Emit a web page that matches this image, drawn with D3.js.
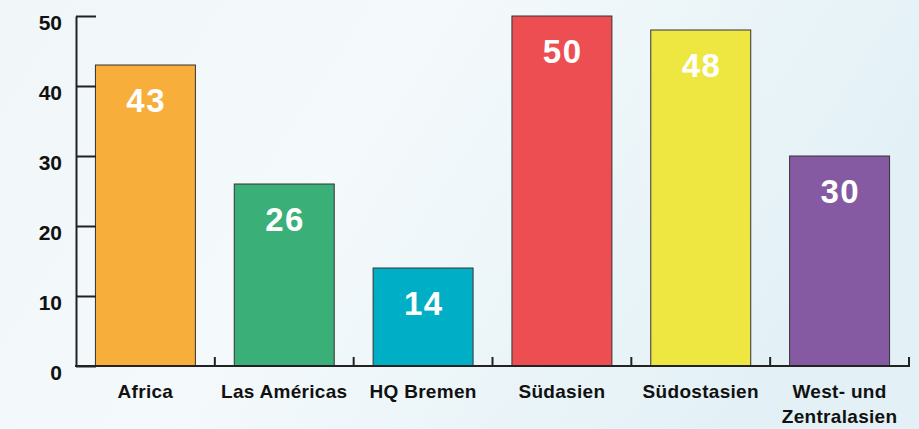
<!DOCTYPE html>
<html><head><meta charset="utf-8">
<script src="https://cdn.jsdelivr.net/npm/d3@7"></script>
<style>
html,body{margin:0;padding:0;width:919px;height:429px;overflow:hidden;}
svg{display:block;}
</style></head><body>
<script>
const categories = ["Africa", "Las Américas", "HQ Bremen", "Südasien", "Südostasien", "West- und Zentralasien"];
const values = [43, 26, 14, 50, 48, 30];
const colors = ["#F8AE3A", "#3BAF78", "#00AEC6", "#EC4E52", "#EEE641", "#865AA2"];
const yTicks = [0, 10, 20, 30, 40, 50];

const W = 919, H = 429;
const svg = d3.select("body").append("svg").attr("width", W).attr("height", H);

const defs = svg.append("defs");
const lg = defs.append("linearGradient").attr("id","bg").attr("x1","0").attr("y1","0").attr("x2","1").attr("y2","0.3");
lg.append("stop").attr("offset","0").attr("stop-color","#f1f7f9");
lg.append("stop").attr("offset","0.45").attr("stop-color","#f4f9fb");
lg.append("stop").attr("offset","1").attr("stop-color","#e3f1f6");
svg.append("rect").attr("width",W).attr("height",H).attr("fill","url(#bg)");

const x = d3.scaleBand().domain(categories).range([76, 909]).paddingInner(0.28).paddingOuter(0.14);
const y = d3.scaleLinear().domain([0, 50]).range([366, 16]);

// bars
svg.selectAll("rect.bar").data(values).join("rect").attr("class","bar")
  .attr("x", (d,i) => x(categories[i]))
  .attr("y", d => y(d))
  .attr("width", x.bandwidth())
  .attr("height", d => y(0) - y(d))
  .attr("fill", (d,i) => colors[i])
  .attr("stroke", "#333").attr("stroke-width", 1);

// value labels
svg.selectAll("text.val").data(values).join("text").attr("class","val")
  .attr("x", (d,i) => x(categories[i]) + x.bandwidth()/2 + 0.75)
  .attr("y", d => y(d) + 47)
  .attr("text-anchor","middle")
  .attr("fill","#fff")
  .attr("font-family","Liberation Sans, Arial, sans-serif")
  .attr("font-weight","bold")
  .attr("font-size", 33)
  .attr("letter-spacing", 1.5)
  .text(d => d);

// y axis
const yAxis = d3.axisLeft(y).tickValues(yTicks).tickSize(-20).tickPadding(14).tickSizeOuter(0);
const gy = svg.append("g").attr("transform","translate(76,0)").call(yAxis);
gy.select(".domain").attr("stroke","#222").attr("stroke-width",2);
gy.selectAll(".tick line").attr("stroke","#222").attr("stroke-width",2);
gy.selectAll(".tick text").attr("fill","#111").attr("font-family","Liberation Sans, Arial, sans-serif")
  .attr("font-weight","bold").attr("font-size",21).attr("dy","0.65em").attr("x",-14);

// x axis
const edges = categories.map(c => x(c) - x.step()*x.paddingInner()/2).concat([909]);
const gx = svg.append("g");
gx.append("line").attr("x1",75).attr("x2",910).attr("y1",y(0)).attr("y2",y(0)).attr("stroke","#222").attr("stroke-width",2);
gx.selectAll("line.xt").data(edges.slice(1)).join("line").attr("class","xt")
  .attr("x1",d=>d).attr("x2",d=>d).attr("y1",y(0)).attr("y2",y(0)-9)
  .attr("stroke","#222").attr("stroke-width",2);

const labelLines = categories.map(c => c === "West- und Zentralasien" ? ["West- und","Zentralasien"] : [c]);
const xl = svg.selectAll("text.cat").data(categories).join("text").attr("class","cat")
  .attr("x", c => x(c) + x.bandwidth()/2)
  .attr("y", 398)
  .attr("text-anchor","middle")
  .attr("fill","#111")
  .attr("font-family","Liberation Sans, Arial, sans-serif")
  .attr("font-weight","bold")
  .attr("font-size",19)
  .attr("letter-spacing",0.3);
xl.each(function(c,i){
  const t = d3.select(this);
  labelLines[i].forEach((l,j) => t.append("tspan").attr("x", x(c)+x.bandwidth()/2).attr("dy", j===0?0:25).text(l));
});
</script>
</body></html>
